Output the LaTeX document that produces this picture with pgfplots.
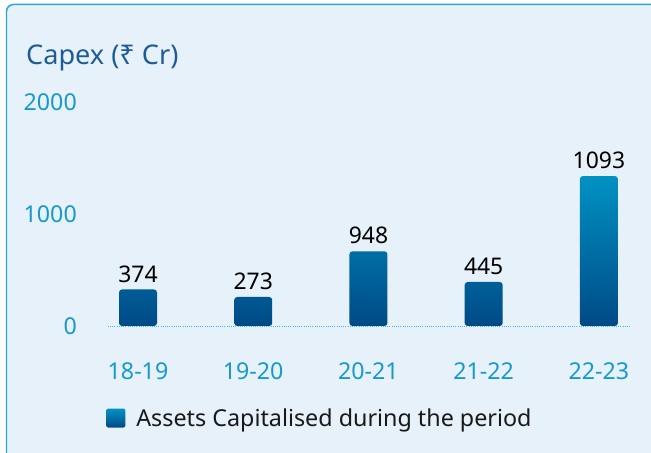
\documentclass[border=0pt]{standalone}
\usepackage{fontspec}
\setmainfont{Noto Sans}
\newfontfamily\rupeefont{Noto Sans}
\usepackage{pgfplots}
\pgfplotsset{compat=1.18}
\definecolor{bgblue}{RGB}{230,241,249}
\definecolor{frameblue}{RGB}{40,168,222}
\definecolor{titleblue}{RGB}{30,93,148}
\definecolor{tickblue}{RGB}{22,154,204}
\definecolor{bartop}{RGB}{0,146,196}
\definecolor{barbot}{RGB}{0,74,134}
\definecolor{dotblue}{RGB}{70,182,228}
\begin{document}
\begin{tikzpicture}[x=1bp,y=1bp]
\path[use as bounding box] (0,0) rectangle (651,453);
\fill[white] (0,0) rectangle (651,453);
\fill[bgblue, rounded corners=7] (6.5,-10) -- (6.5,448.5) -- (670,448.5) -- (670,-10) -- cycle;
\draw[frameblue, line width=1.5, rounded corners=7] (6.5,-10) -- (6.5,448.5) -- (670,448.5);
\node[anchor=base west, inner sep=0, text=titleblue, font=\fontsize{27.2}{32}\selectfont] at (26,388.7) {Capex ({\rupeefont ₹} Cr)};
\begin{axis}[
  at={(107.7bp,127bp)}, anchor=south west, scale only axis,
  width=522.3bp, height=224bp,
  xmin=-0.263, xmax=4.27, ymin=0, ymax=2000,
  axis line style={draw=none}, major tick length=0,
  ytick={0,1000,2000}, xtick={0,...,4},
  xticklabels={18-19,19-20,20-21,21-22,22-23},
  tick label style={text=tickblue, font=\fontsize{23.3}{28}\selectfont},
  yticklabel style={inner sep=0pt, xshift=-30.7bp},
  xticklabel style={inner sep=0pt, yshift=-36.7bp},
  /pgf/number format/assume math mode=true,
  /pgf/number format/1000 sep={},
  clip=false,
  nodes near coords, point meta=explicit symbolic,
  nodes near coords style={font=\fontsize{23}{28}\selectfont, text=black, inner sep=0pt, yshift=7bp, anchor=south},
  legend style={at={(-0.003,-0.411)}, anchor=west, draw=none, fill=none, inner sep=0pt,
    font=\fontsize{23.4}{28}\selectfont, text=black!90, nodes={inner sep=0pt}, column sep=11bp},
  legend cell align=left,
]
\addplot[ybar, bar width=38bp, draw=none, top color=bartop, bottom color=barbot,
  rounded corners=3bp,
  legend image code/.code={\shade[top color=bartop, bottom color=barbot, rounded corners=2bp] (0bp,-9.5bp) rectangle (19bp,9.5bp);}]
  coordinates {(0,326)[374] (1,259)[273] (2,667)[948] (3,393)[445] (4,1339)[1093]};
\addlegendentry{Assets Capitalised during the period}
\draw[dotblue, line width=0.7bp, dash pattern=on 0.9bp off 1.3bp] (rel axis cs:0,0) -- (rel axis cs:1,0);
\end{axis}
\end{tikzpicture}
\end{document}
